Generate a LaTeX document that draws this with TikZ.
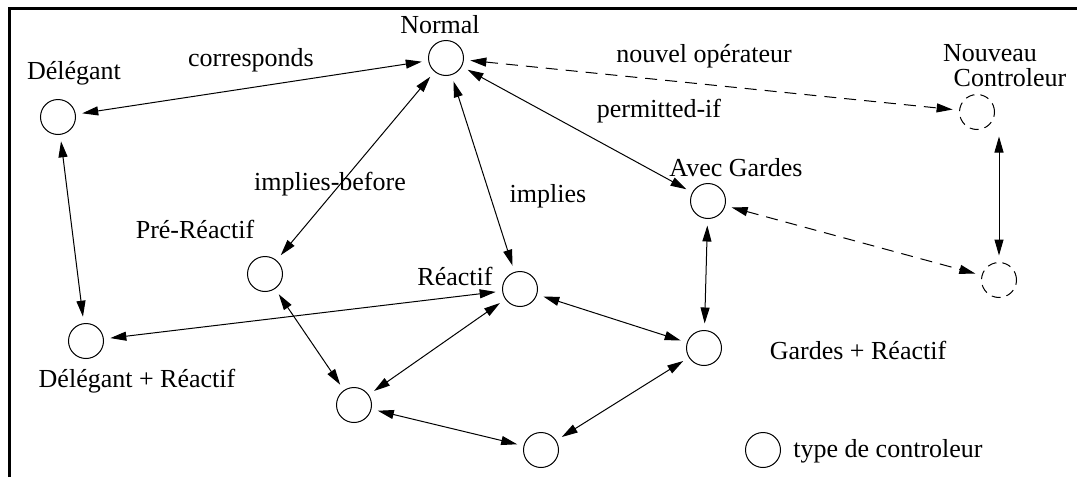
\documentclass[tikz,border=0pt]{standalone}
\usepackage{fontspec}
\setmainfont{Liberation Serif}
\usetikzlibrary{arrows.meta}
\begin{document}
\begin{tikzpicture}[x=0.5pt,y=-0.5pt,
  ctrl/.style={circle,draw,line width=0.5pt,inner sep=0pt,minimum size=17.5pt,outer sep=3.5pt},
  newctrl/.style={ctrl,dash pattern=on 4.5pt off 3pt},
  lab/.style={inner sep=0pt,font=\fontsize{13pt}{15pt}\selectfont},
  link/.style={line width=0.5pt,{Triangle[length=8pt,width=4.5pt]}-{Triangle[length=8pt,width=4.5pt]}},
  newlink/.style={link,dash pattern=on 6pt off 4pt}]
\useasboundingbox (0,0) rectangle (1077,477);
\draw[line width=1.5pt] (9,477) -- (9,8) -- (1077,8);
% controller types
\node[ctrl] (normal) at (446,58) {};
\node[ctrl] (deleg) at (58,117) {};
\node[newctrl] (nouv) at (977,112) {};
\node[ctrl] (gardes) at (708,201) {};
\node[ctrl] (pre) at (265,274) {};
\node[ctrl] (reactif) at (520,289) {};
\node[ctrl] (delreac) at (86,341) {};
\node[ctrl] (gardreac) at (704,348) {};
\node[newctrl] (nouv2) at (999,280) {};
\node[ctrl] (b1) at (354,405) {};
\node[ctrl] (b2) at (541,450) {};
\node[ctrl] (legend) at (763,450) {};
% labels
\node[lab] (lNormal) at (440,25) {Normal};
\node[lab] (lDeleg) at (74,73) {Délégant};
\node[lab] (lNouveau) at (990,53) {Nouveau};
\node[lab] (lControleur) at (1010,78) {Controleur};
\node[lab] (lGardes) at (736,168) {Avec Gardes};
\node[lab] (lPre) at (195,229) {Pré-Réactif};
\node[lab] (lReactif) at (455,276) {Réactif};
\node[lab] (lDelReac) at (137,381) {Délégant + Réactif};
\node[lab] (lGardReac) at (858,350) {Gardes + Réactif};
\node[lab] (lLegend) at (888,451) {type de controleur};
\node[lab] (lCorr) at (251,60) {corresponds};
\node[lab] (lNouvOp) at (704,56) {nouvel opérateur};
\node[lab] (lPerm) at (659,111) {permitted-if};
\node[lab] (lImplB) at (330,184) {implies-before};
\node[lab] (lImpl) at (548,196) {implies};
% connectors
\draw[link] (deleg) -- (normal);
\draw[link] (deleg) -- (delreac);
\draw[link] (normal) -- (pre);
\draw[link] (normal) -- (reactif);
\draw[link] (normal) -- (gardes);
\draw[newlink] (normal) -- (nouv);
\draw[link] (nouv2 |- nouv.south) -- (nouv2.north);
\draw[newlink] (gardes) -- (nouv2);
\draw[link] (gardes) -- (gardreac);
\draw[link] (delreac) -- (reactif);
\draw[link] (reactif) -- (gardreac);
\draw[link] (pre) -- (b1);
\draw[link] (reactif) -- (b1);
\draw[link] (b1) -- (b2);
\draw[link] (b2) -- (gardreac);
\end{tikzpicture}
\end{document}
